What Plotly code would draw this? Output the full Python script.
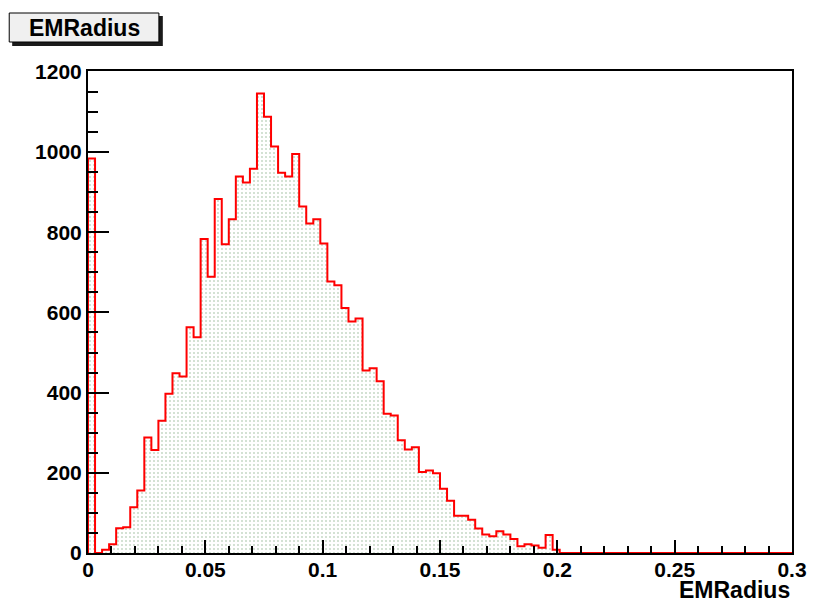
import plotly.graph_objects as go

# ---- data (100 bins, width 0.003, range 0..0.3) ----
bin_width = 0.003
x_min, x_max = 0.0, 0.3
counts = [
    984, 0, 8, 22, 62, 64, 114, 156, 288, 257,
    330, 397, 448, 440, 563, 538, 783, 689, 883, 770,
    832, 939, 924, 958, 1146, 1088, 1014, 948, 939, 995,
    864, 822, 832, 772, 677, 668, 611, 577, 585, 455,
    461, 428, 347, 343, 281, 258, 264, 202, 206, 199,
    160, 130, 93, 93, 83, 61, 46, 42, 54, 46,
    35, 17, 22, 19, 13, 45, 8, 0, 0, 0,
    0, 0, 0, 0, 0, 0, 0, 0, 0, 0,
    0, 0, 0, 0, 0, 0, 0, 0, 0, 0,
    0, 0, 0, 0, 0, 0, 0, 0, 0, 0,
]
x_tick_vals = [0, 0.05, 0.1, 0.15, 0.2, 0.25, 0.3]
x_tick_text = ["0", "0.05", "0.1", "0.15", "0.2", "0.25", "0.3"]
y_tick_vals = [0, 200, 400, 600, 800, 1000, 1200]
hist_title = "EMRadius"
x_title = "EMRadius"

n_bins = len(counts)
edges = [x_min + i * bin_width for i in range(n_bins + 1)]
centers = [x_min + (i + 0.5) * bin_width for i in range(n_bins)]

# step outline
step_x = [edges[0]] + edges[:-1] + [edges[-1], edges[-1]]
step_y = [0] + counts + [counts[-1], 0]

# page body has an 8px margin, so the figure is drawn 8px smaller and offset
OFF = 8
W, H = 819 - OFF, 602 - OFF
L, R, T, B = 88 - OFF, 16, 71 - OFF, 49
pw, ph = W - L - R, H - T - B

def px(x):
    return (x - OFF - L) / pw

def py(y):
    return (H - B - (y - OFF)) / ph

FONT = "Liberation Sans, Arial, Helvetica, sans-serif"

fig = go.Figure()
fig.add_trace(go.Bar(
    x=centers, y=counts, width=bin_width,
    marker=dict(
        color="white",
        line=dict(width=0),
        pattern=dict(shape=".", fgcolor="#7faa7f", bgcolor="white", size=4, solidity=0.16),
    ),
    showlegend=False, hoverinfo="skip",
))
fig.add_trace(go.Scatter(
    x=step_x, y=step_y, mode="lines", line=dict(color="#ff0000", width=2, shape="hv"),
    showlegend=False, hoverinfo="skip",
))

# title box with shadow
fig.add_shape(type="rect", xref="paper", yref="paper",
              x0=px(11), x1=px(164), y0=py(46), y1=py(16),
              fillcolor="#1a1a1a", line=dict(width=0), layer="above")
fig.add_shape(type="rect", xref="paper", yref="paper",
              x0=px(8), x1=px(160), y0=py(42), y1=py(13),
              fillcolor="#f0f0f0", line=dict(color="black", width=1), layer="above")
fig.add_annotation(xref="paper", yref="paper", x=px(84), y=py(28),
                   text="<b>%s</b>" % hist_title, showarrow=False,
                   font=dict(family=FONT, size=23, color="black"),
                   xanchor="center", yanchor="middle")
# x axis title at bottom right
fig.add_annotation(xref="paper", yref="paper", x=1.0, y=py(590),
                   text="<b>%s</b>" % x_title, showarrow=False,
                   font=dict(family=FONT, size=23, color="black"),
                   xanchor="right", yanchor="middle")

fig.update_layout(
    width=W, height=H,
    margin=dict(l=L, r=R, t=T, b=B, pad=0),
    paper_bgcolor="white", plot_bgcolor="white",
    bargap=0, barmode="overlay",
    font=dict(family=FONT, size=21, color="black"),
    xaxis=dict(
        range=[x_min, x_max], showgrid=False, zeroline=False,
        showline=True, linecolor="black", linewidth=2, mirror=True,
        ticks="inside", ticklen=13, tickwidth=2, tickcolor="black",
        tickvals=x_tick_vals, ticktext=["<b>%s</b>" % t for t in x_tick_text],
        tickfont=dict(family=FONT, size=21), ticklabelstandoff=-3,
        minor=dict(dtick=0.01, tick0=0, ticks="inside", ticklen=7, tickwidth=2, tickcolor="black"),
    ),
    yaxis=dict(
        range=[0, 1202], showgrid=False, zeroline=False,
        showline=True, linecolor="black", linewidth=2, mirror=True,
        ticks="inside", ticklen=21, tickwidth=2, tickcolor="black",
        tickvals=y_tick_vals, ticktext=["<b>%d</b>" % v for v in y_tick_vals],
        tickfont=dict(family=FONT, size=21),
        minor=dict(dtick=50, tick0=0, ticks="inside", ticklen=10, tickwidth=2, tickcolor="black"),
    ),
)

fig.write_html("out.html")
